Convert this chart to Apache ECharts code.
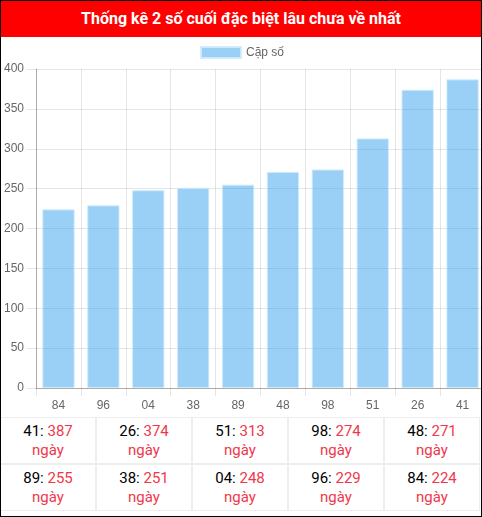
<!DOCTYPE html>
<html>
<head>
<meta charset="utf-8">
<script src="https://cdn.jsdelivr.net/npm/echarts@6/dist/echarts.min.js"></script>
<style>
  html, body { margin: 0; padding: 0; background: #fff; }
  #frame { position: absolute; left: 0; top: 0; width: 480px; height: 515px; border: 1px solid #000; overflow: hidden; background: #fff; }
  #title { position: absolute; left: 0; top: 0; width: 480px; height: 36px; background: #f00; color: #fff;
           font: bold 16px Roboto, sans-serif; line-height: 35px; text-align: center; }
  #chart { position: absolute; left: 0; top: 36px; width: 486px; height: 380px; }
  #tbl { position: absolute; left: -1px; top: 416px; border-collapse: separate; border-spacing: 0; }
  #tbl td { width: 97px; height: 47px; padding: 0; border: 1px solid #eee; text-align: center; vertical-align: middle;
            font: 15px Roboto, sans-serif; line-height: 19px; box-sizing: border-box; }
  .k { color: #000; }
  .v { color: #f0384b; }
</style>
</head>
<body>
<div id="frame">
  <div id="title"></div>
  <div id="chart"></div>
  <table id="tbl"></table>
</div>
<script>
var titleText = 'Thống kê 2 số cuối đặc biệt lâu chưa về nhất';
var seriesName = 'Cặp số';
var categories = ['84', '96', '04', '38', '89', '48', '98', '51', '26', '41'];
var values = [224, 229, 248, 251, 255, 271, 274, 313, 374, 387];
var unitText = 'ngày';
var yTicks = { min: 0, max: 400, interval: 50 };

document.getElementById('title').textContent = titleText;

var chart = echarts.init(document.getElementById('chart'), null, { renderer: 'canvas' });
var gridColor = 'rgba(0,0,0,0.1)';
var axisColor = 'rgba(0,0,0,0.25)';
chart.setOption({
  animation: false,
  legend: {
    data: [seriesName], left: 194, top: 4, itemWidth: 40, itemHeight: 11, icon: 'rect',
    textStyle: { color: '#666', fontSize: 12, fontFamily: 'Liberation Sans, Arial, sans-serif' }
  },
  grid: { left: 34, right: 2, top: 32, height: 319, containLabel: false },
  xAxis: {
    type: 'category', data: categories,
    axisLine: { show: true, lineStyle: { color: axisColor } },
    axisTick: { show: true, length: 8, lineStyle: { color: gridColor } },
    splitLine: { show: true, lineStyle: { color: gridColor } },
    axisLabel: { color: '#666', fontSize: 12, margin: 12, fontFamily: 'Liberation Sans, Arial, sans-serif' }
  },
  yAxis: {
    type: 'value', min: yTicks.min, max: yTicks.max, interval: yTicks.interval,
    axisLine: { show: true, lineStyle: { color: axisColor } },
    axisTick: { show: true, length: 9, lineStyle: { color: gridColor } },
    splitLine: { show: true, lineStyle: { color: gridColor } },
    axisLabel: { color: '#666', fontSize: 12, margin: 12, fontFamily: 'Liberation Sans, Arial, sans-serif' }
  },
  series: [{
    name: seriesName, type: 'bar', data: values, barWidth: '72%',
    itemStyle: { color: 'rgba(54,162,235,0.5)', borderColor: 'rgba(210,235,252,0.9)', borderWidth: 1 }
  }]
});

// table: sorted by value descending (reverse of chart order)
var order = categories.map(function (c, i) { return i; }).reverse();
var tbl = document.getElementById('tbl');
for (var r = 0; r < 2; r++) {
  var tr = document.createElement('tr');
  for (var c = 0; c < 5; c++) {
    var idx = order[r * 5 + c];
    var td = document.createElement('td');
    td.innerHTML = '<span class="k">' + categories[idx] + ':</span> <span class="v">' + values[idx] +
      '</span><br><span class="v">' + unitText + '</span>';
    tr.appendChild(td);
  }
  tbl.appendChild(tr);
}
</script>
</body>
</html>
